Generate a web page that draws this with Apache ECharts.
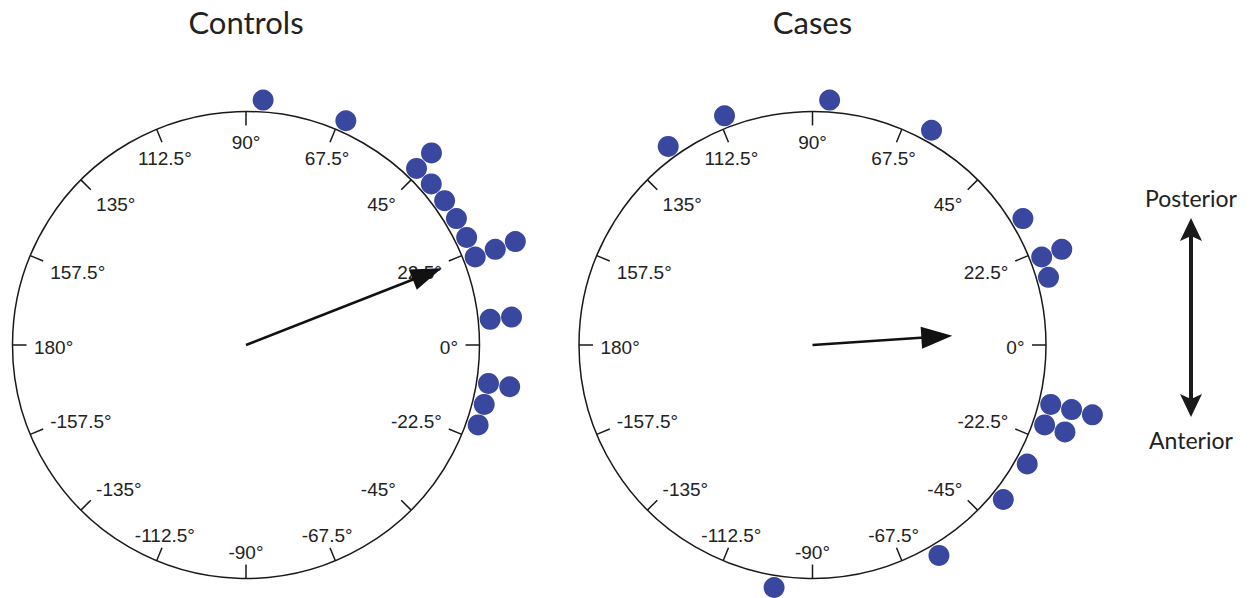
<!DOCTYPE html>
<html>
<head>
<meta charset="utf-8">
<script src="https://cdn.jsdelivr.net/npm/echarts@6/dist/echarts.min.js"></script>
<style>
html,body{margin:0;padding:0;background:#fff;}
#chart{width:1259px;height:598px;}
</style>
</head>
<body>
<div id="chart"></div>
<script>
// ---- data ----
const panelTitles = ['Controls', 'Cases'];
const tickValues = [-180, -157.5, -135, -112.5, -90, -67.5, -45, -22.5, 0, 22.5, 45, 67.5, 90, 112.5, 135, 157.5];
const tickLabels = ['180°', '-157.5°', '-135°', '-112.5°', '-90°', '-67.5°', '-45°', '-22.5°', '0°', '22.5°', '45°', '67.5°', '90°', '112.5°', '135°', '157.5°'];

// individual directions (degrees) and their stacking order within the same bin
const controlsAngles = [86, 66, 46, 46, 41, 36, 31, 26, 21, 21, 21, 6, 6, -9, -9, -14, -19];
const controlsStack  = [0, 0, 0, 1, 0, 0, 0, 0, 0, 1, 2, 0, 1, 0, 1, 0, 0];
const casesAngles = [126, 111, 86, 61, 31, 21, 21, 16, -14, -14, -14, -19, -19, -29, -39, -59, -99];
const casesStack  = [0, 0, 0, 0, 0, 0, 1, 0, 0, 1, 2, 0, 1, 0, 0, 0, 0];

// mean resultant vector: [length relative to unit circle, angle in degrees]
const controlsMean = [0.90, 21.4];
const casesMean = [0.60, 3.8];

const directionLabels = ['Posterior', 'Anterior'];

// ---- layout / style ----
const R = 233.5;
const centers = [[246, 345], [812.5, 345]];
const dotColor = '#3a479f';
const lineColor = '#1a1a1a';
const dotSize = 21;
const firstRingGap = 12;
const ringStep = 21.5;
const labelRadius = 200;      // where the (centred) label boxes are anchored
const labelOuterEdge = 212;   // outer edge / corner of the visible label text
const labelDrop = 2;
const labelPolarRadius = 800; // large helper radius so all labels are centre-aligned
const labelFontSize = 19;
const labelFont = 'Liberation Sans';

function charW(ch) {
  if (ch === '.') return 0.278;
  if (ch === '°') return 0.4;
  if (ch === '-') return 0.333;
  return 0.556;
}
function textW(s) {
  let w = 0;
  for (const ch of s) w += charW(ch);
  return w * labelFontSize;
}

// rich styles that nudge each label so its outer edge/corner touches labelOuterEdge
const rich = {};
tickValues.forEach((v, i) => {
  const th = v * Math.PI / 180;
  const cs = Math.cos(th), sn = Math.sin(th);
  const w = textW(tickLabels[i]), h = 14;
  const axs = Math.abs(cs) < 0.5 ? 0 : Math.sign(cs);
  const ays = Math.abs(sn) < 0.3 ? 0 : Math.sign(sn);
  const cx = labelOuterEdge * cs - axs * w / 2;
  const cy = -labelOuterEdge * sn + ays * h / 2 + labelDrop;
  const px = labelRadius * cs, py = -labelRadius * sn;
  const sx = cx - px, sy = cy - py;
  rich['t' + i] = {
    fontFamily: labelFont, fontSize: labelFontSize, color: '#222',
    padding: [sy > 0 ? 2 * sy : 0, sx < 0 ? -2 * sx : 0, sy < 0 ? -2 * sy : 0, sx > 0 ? 2 * sx : 0]
  };
});

function fmt(v) {
  for (let i = 0; i < tickValues.length; i++) {
    if (Math.abs(tickValues[i] - v) < 1e-6) return '{t' + i + '|' + tickLabels[i] + '}';
  }
  return '';
}

const panels = [
  { angles: controlsAngles, stack: controlsStack, mean: controlsMean },
  { angles: casesAngles, stack: casesStack, mean: casesMean }
];

const polar = [], angleAxis = [], radiusAxis = [], series = [], title = [];

panels.forEach((p, i) => {
  const c = centers[i];
  const mainIdx = i * 2, labIdx = i * 2 + 1;
  polar.push({ center: [c[0], c[1]], radius: R });
  polar.push({ center: [c[0], c[1]], radius: labelPolarRadius });

  angleAxis.push({
    polarIndex: mainIdx, type: 'value', min: -180, max: 180, interval: 22.5,
    startAngle: 180, clockwise: false,
    axisLine: { show: true, lineStyle: { color: lineColor, width: 1.5 } },
    axisTick: { show: true, inside: true, length: 14, lineStyle: { color: lineColor, width: 1.5 } },
    axisLabel: { show: false },
    splitLine: { show: false }
  });
  angleAxis.push({
    polarIndex: labIdx, type: 'value', min: -180, max: 180, interval: 22.5,
    startAngle: 180, clockwise: false,
    axisLine: { show: false },
    axisTick: { show: false },
    axisLabel: {
      show: true, margin: labelRadius - labelPolarRadius, formatter: fmt,
      fontFamily: labelFont, fontSize: labelFontSize, color: '#222', rich: rich
    },
    splitLine: { show: false }
  });
  radiusAxis.push({ polarIndex: mainIdx, min: 0, max: 1, show: false });
  radiusAxis.push({ polarIndex: labIdx, min: 0, max: 1, show: false });

  series.push({
    type: 'scatter', coordinateSystem: 'polar', polarIndex: mainIdx, clip: false,
    symbolSize: dotSize, itemStyle: { color: dotColor, opacity: 1 },
    data: p.angles.map((a, k) => [1 + (firstRingGap + ringStep * p.stack[k]) / R, a])
  });

  series.push({
    type: 'custom', coordinateSystem: 'polar', polarIndex: mainIdx, clip: false,
    data: [p.mean],
    renderItem: function (params, api) {
      const len = api.value(0), ang = api.value(1);
      const o = api.coord([0, ang]);
      const t = api.coord([len, ang]);
      const dx = t[0] - o[0], dy = t[1] - o[1];
      const L = Math.hypot(dx, dy);
      const ux = dx / L, uy = dy / L, nx = -uy, ny = ux;
      const hl = 31, hw = 11;
      const b = [t[0] - ux * hl, t[1] - uy * hl];
      return {
        type: 'group',
        children: [
          { type: 'line', shape: { x1: o[0], y1: o[1], x2: b[0] + ux * 3, y2: b[1] + uy * 3 },
            style: { stroke: '#111', lineWidth: 2.5 } },
          { type: 'polygon', shape: { points: [t, [b[0] + nx * hw, b[1] + ny * hw], [b[0] - nx * hw, b[1] - ny * hw]] },
            style: { fill: '#111' } }
        ]
      };
    }
  });

  title.push({
    text: panelTitles[i], left: c[0], top: 6, textAlign: 'center', padding: 0,
    textStyle: { fontFamily: 'Lato', fontSize: 31, fontWeight: 'normal', color: '#222' }
  });
});

const ax = 1191;
const graphic = [
  { type: 'text', x: ax, y: 198, style: { text: directionLabels[0], align: 'center', verticalAlign: 'middle',
      font: '23px Lato', fill: '#222' } },
  { type: 'text', x: ax, y: 440, style: { text: directionLabels[1], align: 'center', verticalAlign: 'middle',
      font: '23px Lato', fill: '#222' } },
  { type: 'line', shape: { x1: ax, y1: 234, x2: ax, y2: 401 }, style: { stroke: '#1a1a1a', lineWidth: 4 } },
  { type: 'polygon', shape: { points: [[ax, 218], [ax - 11, 241], [ax, 236], [ax + 11, 241]] }, style: { fill: '#1a1a1a' } },
  { type: 'polygon', shape: { points: [[ax, 417], [ax - 11, 394], [ax, 399], [ax + 11, 394]] }, style: { fill: '#1a1a1a' } }
];

const chart = echarts.init(document.getElementById('chart'), null, { renderer: 'svg' });
chart.setOption({
  animation: false,
  backgroundColor: '#fff',
  title, polar, angleAxis, radiusAxis, series, graphic
});
</script>
</body>
</html>
